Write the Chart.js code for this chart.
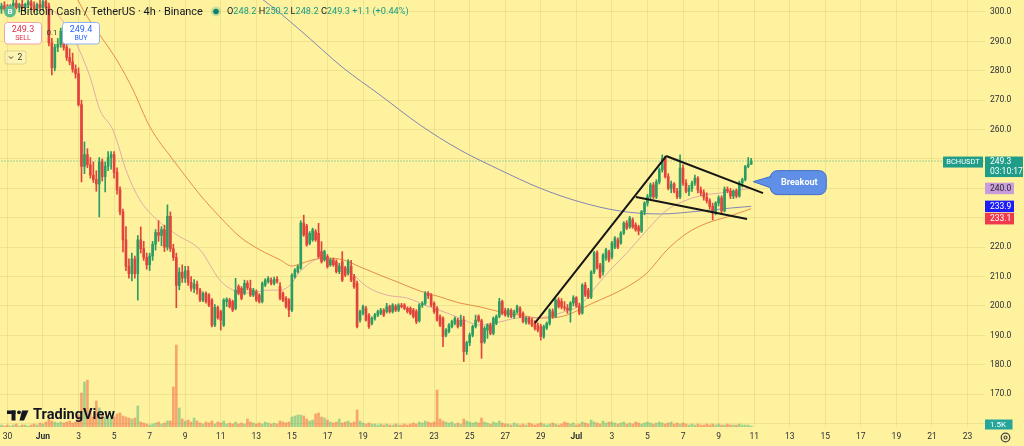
<!DOCTYPE html>
<html><head><meta charset="utf-8">
<script src="https://cdn.jsdelivr.net/npm/chart.js@4.4.1/dist/chart.umd.min.js"></script>
<style>html,body{margin:0;padding:0;background:#FEF29E;}canvas{display:block;}</style>
</head><body>
<canvas id="c" width="1024" height="446"></canvas>
<script>
// BCH/USDT 4h candles, index 0 = May 29 16:00 ; [open, high, low, close]
const candles = [
[301,303,299.5,302],[302,303.5,300.5,301],[301,302.5,299,300],[300,302.5,299,302],[302,304,301,303],[303,304,301,301.5],
[301.5,303,300,302.5],[302.5,304,301,301.5],[301.5,303,300,302.5],[302.5,304,301.5,303.5],[303.5,304,301,302],[302,303.5,300,301],
[301,303,299.5,302.5],[302.5,304,300.5,301.5],[301.5,304,300.5,303.5],[303.5,304,301,302],[302,303,288.5,289.5],[289.5,291,278.6,281],
[281,289,280,288],[288,291,286.5,289],[289,294.5,288,293.5],[293.5,295,287,288],[288,290,283.5,284.5],[284.5,287.5,282,283],
[283,286,279.5,280.5],[280.5,282,277.5,279],[279,281,268,268.5],[268.5,270,242.2,247.5],[247.5,255.8,245,251.5],[251.5,253.5,247,248],
[248,250.5,243.5,244.5],[244.5,249,242,243],[243,246,239,241.5],[241.5,250.5,230.3,249],[249,250,242.5,244],[244,249,238.8,247.5],
[247.5,252.5,246,250.5],[250.5,252.5,246.5,251.5],[251.5,252.5,243.5,245.5],[245.5,247,238,239.5],[239.5,240.5,231,232],[232,233,218.4,222.5],
[222.5,227,212,213.5],[213.5,216,209.5,211],[211,218,208.5,216],[216,217,209.5,211],[211,224,202,222.5],[222.5,226.9,218,219.5],
[219.5,222,215.5,216.5],[216.5,218,212.5,214],[214,218,212,217],[217,222,215.5,221],[221,226,219,225],[225,229,222,224],
[224,227,220.5,226],[226,227.5,218.5,220],[220,234.4,219,230.5],[230.5,232,218.5,219.5],[219.5,221,215.5,216.5],[216.5,218,199.4,207],
[207,213,205.5,211.5],[211.5,214,208,209.5],[209.5,213.5,208,212],[212,213.5,207,208],[208,210,205,206],[206,209,204.5,207.5],
[207.5,208.5,204,205.5],[205.4,206,201.5,202],[202,204.8,201.5,204.3],[204.3,204.8,201,201.5],[203.7,204.2,199.8,200.3],[202,202.5,192.9,193.5],
[193.5,200.5,193,199.5],[199.5,200,195.5,196],[198.1,198.6,191.8,195.2],[193.5,202.5,193,202],[201.5,202.8,199.8,202.3],[202,202.6,199.3,199.8],
[201.5,202,198.1,198.6],[199.2,209.4,198.7,205.4],[206.6,207.2,203.8,204.3],[206,206.6,202.1,202.6],[204.3,208.8,203.8,207.7],[207.7,208.6,205.5,206.2],
[206,208.8,203.2,203.7],[203.7,206,203.2,205.4],[204.9,205.5,201.5,202],[203.7,204.2,201,201.5],[201.5,208.2,201,207.7],[207.1,209.3,206.6,208.8],
[208.3,210,207.8,209.4],[208.8,209.6,207.2,207.7],[207.7,209.8,207.2,209.1],[209.1,210,207.8,208.3],[206.6,208,202.1,202.6],[204.3,204.8,201.5,202],
[202.6,203.2,199.3,199.8],[202,202.5,196.4,198.6],[198.6,211,198.1,210.5],[210,212.7,209.5,212.2],[211.7,213.9,211.2,213.4],[212.9,229,212.5,228.2],
[228.2,230.9,223.7,224.2],[227.2,227.8,220.3,220.8],[221.3,225.3,220.8,224.7],[222.5,226.5,222,225.9],[225.3,226,222,222.5],[224.7,228.1,216.3,216.8],
[218.5,221.9,214.6,215.1],[215.7,219,215.2,218.5],[216.8,217.5,212.9,213.4],[214,216.2,213.5,215.7],[215.7,216.3,213.5,214],[215.1,215.7,211.2,211.7],
[211.7,214.5,211,213.5],[215.1,218.5,208.3,208.8],[213,213.5,210,210.5],[211.1,215.8,210.5,215.1],[213.5,215.5,208.3,208.8],[210,210.8,206,206.6],
[207.7,208.5,192.5,193],[195.2,198.6,194.5,198.1],[197.5,200.3,197,199.8],[199.2,199.9,194.8,195.2],[196.9,197.4,192.4,193],[194.1,196.3,193.6,195.8],
[195.8,197.5,195.2,197],[196.9,198.6,196.4,198.1],[197.5,199.2,197,198.6],[198.6,199.1,196.4,196.9],[198.1,200.9,197.6,199.8],[199.8,200.3,197.6,198.1],
[198.1,200.8,197.6,200.3],[199.8,200.5,198.1,198.6],[198.6,200.8,198.1,200.3],[200.3,200.9,199.3,199.8],[200.3,200.8,198.7,199.2],[199.2,199.7,197.6,198.1],
[199.2,199.7,197,197.5],[198.6,199.2,195.9,196.4],[198.1,198.8,194,194.7],[195,200.8,194.5,200.3],[200.3,201.5,199.5,200.9],[200.9,204.9,200.3,204.3],
[204.3,204.9,202.5,203.5],[203.7,204.2,199.8,200.3],[200.9,201.4,197.5,198.1],[199.2,199.8,194.8,195.2],[196.4,197,193,193.5],[195.8,196.3,186.2,189.6],
[190.1,192.3,189.5,191.8],[191.3,194,190.8,193.5],[193,195.2,192.5,194.7],[194.1,196.3,193.6,195.8],[195.2,195.8,192.5,193],[193.5,196.9,193,195.2],
[195.2,196.5,181.1,184.5],[184.5,188,183.5,187.5],[187.5,190.8,186.5,190.1],[190.1,193.5,189.5,193],[193,196.9,192.5,195.2],[196.5,197,194.5,195],
[195,195.5,182.2,187.5],[187.9,193,187.3,192.4],[191.8,194,189,193.5],[193.5,194.2,190.2,190.7],[190.7,196.3,190.2,195.8],[194.1,197,193.6,196.4],
[196.5,202.6,196,201.5],[201.5,202,197,197.5],[198.6,199.3,196.5,196.9],[196.9,199.2,196.2,198.6],[198.6,199,196,196.4],[196.4,198.6,195.8,198],
[198,200.3,197.5,199.8],[199.2,199.8,196,196.4],[197.5,198,194.2,194.7],[194.7,196.3,193.8,195.8],[195.8,196.2,193.8,194.1],[195.2,195.8,193,193.5],
[194.1,195,191.8,192.4],[193.5,194.3,191.2,191.8],[193,193.8,188.4,189.6],[189.6,193.5,189,193],[192.5,194.6,192,194.1],[194.1,199,193.5,198.6],
[198.1,199,195.8,196.4],[196.4,202.5,196,202],[202,202.8,199.3,199.8],[201.5,202.5,199,199.7],[199.7,201.5,198.5,199.3],[199.3,200.5,197.5,198.6],
[198.6,201.5,194.5,201],[201,203.5,200,202.8],[202.8,203.2,199.5,200],[200,201,197,197.6],[197.6,207.6,197.2,207.1],[207.1,208,203.2,203.7],
[205.4,206,202.5,203],[203,212,202.5,211.6],[211.6,218.6,211,218.1],[218.1,218.8,212.5,213],[214,214.5,209.5,209.9],[211.6,217.8,210.5,217.3],
[216.3,219.6,215.5,219.1],[218.4,219,215,215.7],[216.7,222,216,221.4],[220,223.6,219.5,223.1],[222.5,223.2,219.5,220],[221.4,225.3,221,224.8],
[224.8,228.7,224.3,228.2],[228.2,229,226,226.5],[226.9,230.5,226.4,229.9],[229.3,230,226.4,226.9],[227.6,228.3,225.4,225.9],[226.9,227.5,224.2,225.5],
[225.5,232.5,225,232.1],[232,235.5,231,235],[235,238,234,237.2],[237.2,241.8,236.5,241.2],[241.2,242,236.5,237.1],[237.1,243,236.5,242.2],
[242.2,247,241.5,246.3],[246.3,251.4,245.5,250.3],[250.3,251,243.5,244],[244,245,239.5,240],[240,242.5,238.5,241.5],[241.5,242,238.5,239],
[239,240,236.5,237.1],[237.1,251.4,236.5,246.9],[246.9,248,241,241.8],[241.8,243,238.5,239],[239,241,237.5,240],[240,242.5,239,241.8],
[241.8,244.5,241,243.5],[243.5,244,238.5,239.5],[239.5,240.5,237.5,238.5],[238.5,239.5,236,237],[237,238.5,235,235.8],[235.8,236.5,233,233.9],
[233.9,235,229.3,231.7],[231.7,235.5,231,235],[235,237.5,234,236.8],[236.8,237.5,231.2,232.3],[232.3,240.5,232,239.7],[239.7,240.5,238.5,239.1],
[239.1,240,236.5,237.4],[237.4,239.5,236.5,239.1],[239.1,239.8,236.8,237.4],[237.4,242.5,237,241.9],[241.9,243.5,240.5,243],[243,247.8,242.5,247.5],
[247.5,250.5,247,248.2],[248.2,250.2,248.2,249.3]
];
// volume per candle, thousands of BCH
const volumes = [
3,1.5,3,1.5,3,4.5,1.5,3,3,1.5, 3,4.5,3,6,4.5,7.5,
12,9,7.5,6,7.5,6,7.5,9,6,7.5, 18,51,67.5,70.5, 21,15,39,28.5,
18,15,12,13.5,15,19.5,21, 16.5,15,13.5,12,13.5, 31.5,
7.5,6,4.5,3,4.5,6,7.5,4.5,6,9,9, 60,123,28.5, 12,9,10.5,7.5,13.5,9,
6,4.5,7.5,6,9,4.5,7.5,6,9,4.5,6,4.5,7.5,4.5,6,4.5, 12,7.5,6,4.5,6,4.5,7.5,6,
4.5,6,4.5,9,7.5,6,7.5,15,16.5,18, 18,16.5, 12,9,10.5, 19.5,21, 15,13.5,10.5,7.5,
6,7.5,12,6,7.5,9,6,7.5, 25.5,
9,6,4.5,6,4.5,4.5,3,4.5,3,4.5,3,3,4.5,3,3,4.5,3,4.5,6,4.5,
7.5,6,9,7.5,6,7.5, 55.5, 12,9,7.5,6,7.5,4.5,6,4.5, 12,9,7.5,6,7.5,6, 13.5,
7.5,6,4.5,7.5,6,9,6,4.5,
4.5,3,6,4.5,3,4.5,3,6,4.5,3,4.5,6,4.5,3,4.5,6,4.5,3,4.5,7.5,6,4.5,6,3,4.5,
7.5,6,4.5,10.5,7.5,6,4.5,9,6,7.5,
7.5,6,4.5,6,7.5,4.5,6,4.5,7.5,6,4.5,6,7.5,6,4.5,6,7.5,6,4.5,6,7.5,4.5,6,4.5,6,
4.5,3,4.5,3,4.5,3,3,4.5,3,4.5,3,4.5,3,3,4.5,3,3,3,4.5,3,3,3,1.5
];
// x-axis labels, one every 2 days starting May 30 00:00 (candle index 2)
const tickLabels = ['30','Jun','3','5','7','9','11','13','15','17','19','21','23','25','27','29','Jul','3','5','7','9','11','13','15','17','19','21','23'];
const priceTicks = [160,170,180,190,200,210,220,230,240,250,260,270,280,290,300];
const hiddenPriceTicks = [160,230,240,250];
// moving averages [candle index, price]
const maFast = [[0,302.2],[8,302.5],[14,302],[18,300],[21,296.5],[23.5,292.5],[25.8,288.1],[29.9,277.9],[33.2,266.7],[37.6,259.9],[42.4,245.2],[46.7,236.1],[52.5,229.3],[59.2,224.2],[67,219.1],[73.7,208.8],[78.1,205.4],[83.9,204.4],[89.6,205.4],[94,205.4],[97.4,207.1],[100.7,211.6],[104.1,214.6],[107.5,216.3],[111.9,214.6],[117.6,211.6],[123.4,206.5],[130.1,203.7],[136.9,202.7],[143.6,200],[150.4,197.6],[154.7,195.9],[161.5,193.5],[168.2,194.6],[175,196],[181.7,196],[188.5,197.6],[195.2,200.3],[199.6,205.4],[205.4,212.2],[211.1,218.1],[217.9,225.9],[224.6,232.7],[231.4,236.1],[237.4,237.8],[242.5,238.4],[249.2,239.5],[253,240.0]];
const maMid = [[20,318],[25.8,304.1],[29.2,298],[33.2,292.2],[39.3,283],[44.4,273.5],[50.1,260.9],[57.9,249.7],[62.6,243.5],[67,237.8],[73.7,230.3],[80.5,223.5],[87.2,219.1],[94,215.7],[98,213.6],[100.7,214.3],[105.1,215.7],[109.9,216.3],[115.3,215.7],[121,213.3],[127.7,210.5],[134.5,207.8],[141.2,205.1],[148,203.1],[154.7,201],[161.5,199.7],[168.2,198],[175,196.9],[181.7,195.9],[188.5,196.3],[199.6,201],[211.1,206.5],[217.8,211.2],[224.6,219.1],[231.4,224.8],[238.1,228.2],[244.9,230.3],[253,233.1]];
const maSlow = [[75,312],[88.3,304.1],[100.7,293.9],[115.3,281],[127.7,271.8],[141.2,261.6],[154.7,253.1],[168.2,246.3],[181.7,240.1],[195.2,235.4],[208.7,232.3],[222.2,231.3],[235.8,232.3],[245.9,233.3],[253,233.9]];
// drawn trend lines (flag pattern) [candle index, price]
const flagPole = [[180,194.2],[224.3,251.0]];
const flagUpper = [[224.3,251.0],[257,238.4]];
const flagLower = [[214.1,237.1],[251.6,229.6]];
const breakoutAt = [253.7, 242.3];
const lastPrice = 249.3;
const countdown = '03:10:17';
const lastVolumeLabel = '1.5K';

const FAM = "Roboto, 'Noto Sans', 'DejaVu Sans', sans-serif";
const UP = '#2b9d62', DOWN = '#e2443d';
const VUP = 'rgba(38,166,110,0.42)', VDOWN = 'rgba(240,88,60,0.5)';
const GRID = 'rgba(150,130,40,0.13)';
const TXT = '#2a2e39';
const isUp = c => c[3] >= c[0];
const pts = a => a.map(p => ({x: p[0], y: p[1]}));

function rr(ctx,x,y,w,h,r){ctx.beginPath();ctx.moveTo(x+r,y);ctx.arcTo(x+w,y,x+w,y+h,r);ctx.arcTo(x+w,y+h,x,y+h,r);ctx.arcTo(x,y+h,x,y,r);ctx.arcTo(x,y,x+w,y,r);ctx.closePath();}
function fitSize(ctx, text, weight, target){ctx.font = `${weight} 10px ${FAM}`; return 10*target/ctx.measureText(text).width;}

const overlay = {
  id: 'overlay',
  afterDraw(chart) {
    const ctx = chart.ctx, xs = chart.scales.x, ys = chart.scales.y, area = chart.chartArea;
    ctx.save();
    ctx.textBaseline = 'middle';
    // Breakout callout
    const tx = xs.getPixelForValue(breakoutAt[0]), ty = ys.getPixelForValue(breakoutAt[1]);
    const bl = tx + 17, bt = ty - 11, bw = 56, bh = 24, r = 7;
    ctx.beginPath();
    ctx.moveTo(bl + r, bt);
    ctx.lineTo(bl + bw - r, bt); ctx.arcTo(bl + bw, bt, bl + bw, bt + r, r);
    ctx.lineTo(bl + bw, bt + bh - r); ctx.arcTo(bl + bw, bt + bh, bl + bw - r, bt + bh, r);
    ctx.lineTo(bl + r, bt + bh); ctx.arcTo(bl, bt + bh, bl, bt + bh - r, r);
    ctx.lineTo(bl, ty + 6); ctx.lineTo(tx, ty); ctx.lineTo(bl, ty - 5);
    ctx.lineTo(bl, bt + r); ctx.arcTo(bl, bt, bl + r, bt, r);
    ctx.closePath();
    ctx.fillStyle = '#5f8fe6'; ctx.fill();
    ctx.strokeStyle = '#3e6cc9'; ctx.lineWidth = 1; ctx.stroke();
    ctx.fillStyle = '#fff'; ctx.font = `bold 9px ${FAM}`; ctx.textAlign = 'center';
    ctx.fillText('Breakout', bl + bw / 2 + 1, ty + 1);

    // Header
    ctx.textAlign = 'left';
    ctx.beginPath(); ctx.arc(10, 11.5, 6, 0, Math.PI * 2); ctx.fillStyle = '#5dbb8c'; ctx.fill();
    ctx.fillStyle = '#fff'; ctx.font = `bold 8px ${FAM}`; ctx.textAlign = 'center'; ctx.fillText('B', 10, 12);
    ctx.textAlign = 'left';
    const title = 'Bitcoin Cash / TetherUS · 4h · Binance';
    let s = fitSize(ctx, title, 'normal', 183);
    ctx.font = `normal ${s}px ${FAM}`; ctx.fillStyle = '#131722'; ctx.fillText(title, 20, 12);
    ctx.beginPath(); ctx.arc(216, 11.5, 5, 0, Math.PI * 2); ctx.fillStyle = 'rgba(8,153,129,0.22)'; ctx.fill();
    ctx.beginPath(); ctx.arc(216, 11.5, 2.8, 0, Math.PI * 2); ctx.fillStyle = '#0d7f6c'; ctx.fill();
    const last = candles[candles.length - 1], prev = candles[candles.length - 2];
    const ch = last[3] - prev[3];
    const G = '#1a9c85', D = '#131722';
    const segs = [['O', D], [last[0].toFixed(1), G], [' H', D], [last[1].toFixed(1), G], [' L', D], [last[2].toFixed(1), G], [' C', D], [last[3].toFixed(1), G],
      [` ${ch >= 0 ? '+' : ''}${ch.toFixed(1)} (${ch >= 0 ? '+' : ''}${(ch / prev[3] * 100).toFixed(2)}%)`, G]];
    ctx.font = `normal 10px ${FAM}`;
    let tw = 0; segs.forEach(g => tw += ctx.measureText(g[0]).width);
    s = 10 * 182 / tw; ctx.font = `normal ${s}px ${FAM}`;
    let xx = 227;
    segs.forEach(g => { ctx.fillStyle = g[1]; ctx.fillText(g[0], xx, 12); xx += ctx.measureText(g[0]).width; });

    // Sell / Buy
    rr(ctx, 4.5, 22.5, 37, 21.5, 3); ctx.fillStyle = '#fff'; ctx.fill(); ctx.strokeStyle = '#f0a3aa'; ctx.lineWidth = 1; ctx.stroke();
    rr(ctx, 62.5, 22.5, 37, 21.5, 3); ctx.fillStyle = '#fff'; ctx.fill(); ctx.strokeStyle = '#8fb1ef'; ctx.stroke();
    ctx.textAlign = 'center';
    ctx.font = `normal 9px ${FAM}`; ctx.fillStyle = '#dd3047'; ctx.fillText(lastPrice.toFixed(1), 23, 29.5);
    ctx.font = `normal 7px ${FAM}`; ctx.fillText('SELL', 23, 38.5);
    ctx.font = `normal 9px ${FAM}`; ctx.fillStyle = '#2962ff'; ctx.fillText((lastPrice + 0.1).toFixed(1), 81, 29.5);
    ctx.font = `normal 7px ${FAM}`; ctx.fillText('BUY', 81, 38.5);
    ctx.font = `normal 7.5px ${FAM}`; ctx.fillStyle = '#333'; ctx.fillText('0.1', 52, 33.5);
    rr(ctx, 5, 51, 21, 13, 2); ctx.fillStyle = 'rgba(255,255,255,0.2)'; ctx.fill(); ctx.strokeStyle = 'rgba(0,0,0,0.13)'; ctx.stroke();
    ctx.beginPath(); ctx.moveTo(9, 56.5); ctx.lineTo(11, 58.5); ctx.lineTo(13, 56.5); ctx.strokeStyle = '#333'; ctx.lineWidth = 1; ctx.stroke();
    ctx.font = `normal 8.5px ${FAM}`; ctx.fillStyle = '#333'; ctx.fillText('2', 20, 58);

    // TradingView logo
    ctx.fillStyle = '#131722';
    ctx.fillRect(7, 410.5, 8.5, 3.5); ctx.fillRect(11.5, 410.5, 4, 10);
    ctx.beginPath(); ctx.arc(19, 412.3, 1.9, 0, Math.PI * 2); ctx.fill();
    ctx.beginPath(); ctx.moveTo(22, 410.5); ctx.lineTo(28.5, 410.5); ctx.lineTo(24, 420.5); ctx.lineTo(19.5, 420.5); ctx.closePath(); ctx.fill();
    ctx.textAlign = 'left';
    s = fitSize(ctx, 'TradingView', 'bold', 82); ctx.font = `bold ${s}px ${FAM}`; ctx.fillText('TradingView', 33, 415.5);

    // Right-axis labels
    const R = area.right;
    const py = ys.getPixelForValue(lastPrice);
    ctx.fillStyle = '#1f9d89'; ctx.fillRect(R - 42, py - 4.5, 40, 11);
    ctx.fillRect(R, py - 4.5, 38, 20.5);
    ctx.fillStyle = '#fff'; ctx.textAlign = 'center'; ctx.font = `normal 7.5px ${FAM}`; ctx.fillText('BCHUSDT', R - 22, py + 1);
    ctx.textAlign = 'left'; ctx.font = `normal 8.5px ${FAM}`;
    ctx.fillText(lastPrice.toFixed(1), R + 5, py + 0.5);
    ctx.fillText(countdown, R + 5, py + 10.5);
    const maTags = [[maFast[maFast.length - 1][1], '#c99cdc', '#2a2a2a'], [maSlow[maSlow.length - 1][1], '#1d1dfa', '#fff'], [maMid[maMid.length - 1][1], '#ef3a4b', '#fff']];
    let prevBottom = -1e9;
    maTags.forEach(t => {
      let top = ys.getPixelForValue(t[0]) - 5.7;
      if (top < prevBottom + 0.8) top = prevBottom + 0.8;
      ctx.fillStyle = t[1]; ctx.fillRect(R, top, 29, 11.5);
      ctx.fillStyle = t[2]; ctx.fillText(t[0].toFixed(1), R + 5, top + 6);
      prevBottom = top + 11.5;
    });
    ctx.fillStyle = '#26a69a'; ctx.fillRect(R, 419.5, 27.5, 10);
    ctx.fillStyle = '#fff'; ctx.font = `normal 8px ${FAM}`; ctx.fillText(lastVolumeLabel, R + 5, 424.8);
    // settings gear
    ctx.strokeStyle = '#444'; ctx.lineWidth = 1.2;
    ctx.beginPath(); ctx.arc(1005.5, 437.5, 4.3, 0, Math.PI * 2); ctx.stroke();
    ctx.beginPath(); ctx.arc(1005.5, 437.5, 1.5, 0, Math.PI * 2); ctx.stroke();
    ctx.restore();
  }
};

const lineDs = (data, color, width, order, extra) => Object.assign({type: 'line', data: pts(data), borderColor: color, borderWidth: width, pointRadius: 0, cubicInterpolationMode: 'monotone', order}, extra || {});

new Chart(document.getElementById('c'), {
  type: 'bar',
  data: {
    datasets: [
      lineDs(flagPole, '#161616', 2, 0),
      lineDs(flagUpper, '#161616', 2, 0),
      lineDs(flagLower, '#161616', 2, 0),
      {label: 'body', data: candles.map((c, i) => ({x: i, y: [c[0], c[3]]})), backgroundColor: candles.map(c => isUp(c) ? UP : DOWN), barThickness: 2, minBarLength: 1, grouped: false, order: 2},
      {label: 'wick', data: candles.map((c, i) => ({x: i, y: [c[2], c[1]]})), backgroundColor: candles.map(c => isUp(c) ? UP : DOWN), barThickness: 1, grouped: false, order: 3},
      lineDs(maFast, 'rgba(214,150,170,0.75)', 1, 4),
      lineDs(maMid, '#e68c4a', 1, 4),
      lineDs(maSlow, '#8385b3', 1, 4),
      lineDs([[-1, lastPrice], [332, lastPrice]], 'rgba(31,157,137,0.8)', 1, 5, {borderDash: [1, 2]}),
      {label: 'volume', yAxisID: 'yv', data: volumes.map((v, i) => ({x: i, y: v})), backgroundColor: candles.map(c => isUp(c) ? VUP : VDOWN), barThickness: 2, grouped: false, order: 6}
    ]
  },
  options: {
    responsive: false, animation: false, devicePixelRatio: 1,
    layout: {padding: 0},
    plugins: {legend: {display: false}, tooltip: {enabled: false}},
    scales: {
      x: {
        type: 'linear', min: -0.5, max: 331.9, offset: false,
        grid: {color: GRID, drawTicks: false, offset: false}, border: {display: false},
        afterBuildTicks: s => { s.ticks = tickLabels.map((_, k) => ({value: 2 + 12 * k})); },
        ticks: {autoSkip: false, maxRotation: 0, padding: 5, color: TXT,
          font: c => ({family: FAM, size: 8.5, weight: /[A-Za-z]/.test(tickLabels[c.index] || '') ? 'bold' : 'normal'}),
          callback: (v, i) => tickLabels[i]},
        afterFit: s => { s.height = 19; s.paddingLeft = 0; s.paddingRight = 0; }
      },
      y: {
        type: 'linear', position: 'right', min: 158.84, max: 304.08,
        grid: {color: GRID, drawTicks: false}, border: {display: false},
        afterBuildTicks: s => { s.ticks = priceTicks.map(v => ({value: v})); },
        ticks: {padding: 5, color: TXT, font: {family: FAM, size: 8.5},
          callback: v => hiddenPriceTicks.includes(v) ? '' : v.toFixed(1)},
        afterFit: s => { s.width = 39; s.paddingTop = 0; s.paddingBottom = 0; }
      },
      yv: {type: 'linear', display: false, min: 0, max: 640.5}
    }
  },
  plugins: [overlay]
});
</script>
</body></html>
